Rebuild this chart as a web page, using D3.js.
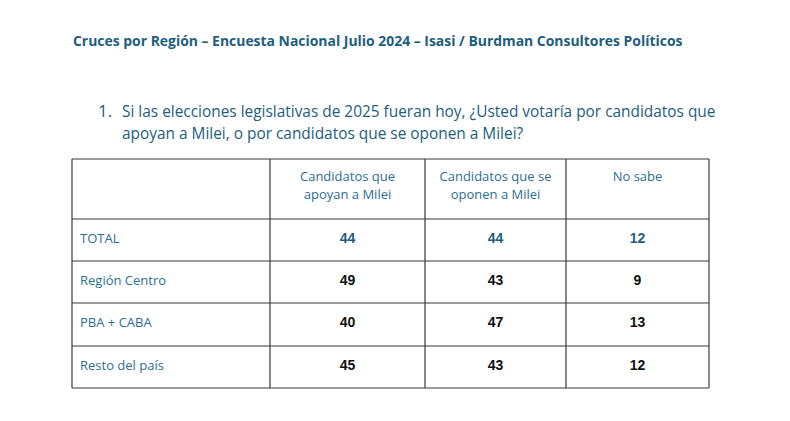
<!DOCTYPE html>
<html><head><meta charset="utf-8">
<script src="https://cdn.jsdelivr.net/npm/d3@7"></script>
<style>body{margin:0;background:#fff}svg{display:block}</style>
</head><body>
<svg id="c" width="790" height="421"></svg>
<script>
const title = "Cruces por Región – Encuesta Nacional Julio 2024 – Isasi / Burdman Consultores Políticos";
const questionNum = "1.";
const questionLines = ["Si las elecciones legislativas de 2025 fueran hoy, ¿Usted votaría por candidatos que",
                       "apoyan a Milei, o por candidatos que se oponen a Milei?"];
const columns = [["Candidatos que","apoyan a Milei"],["Candidatos que se","oponen a Milei"],["No sabe"]];
const rowLabels = ["TOTAL","Región Centro","PBA + CABA","Resto del país"];
const apoyan = [44,49,40,45];
const oponen = [44,43,47,43];
const noSabe = [12,9,13,12];

const svg = d3.select("#c");
const teal = "#1d5e80", lab = "#2c6f94";

function fit(sel, w){ const n=sel.node(); const l=n.getComputedTextLength(); const fs=parseFloat(sel.attr("font-size")); sel.attr("font-size", fs*w/l); }

const t = svg.append("text").attr("x",73).attr("y",46).attr("font-family","Open Sans, sans-serif")
  .attr("font-weight","bold").attr("font-size",14).attr("fill",teal).text(title);
fit(t, 610);

svg.append("text").attr("x",98).attr("y",117).attr("font-family","Liberation Sans Narrow, Open Sans, sans-serif")
  .attr("font-size",17).attr("fill",teal).text(questionNum);
const q1 = svg.append("text").attr("x",122).attr("y",117).attr("font-family","Liberation Sans Narrow, Open Sans, sans-serif")
  .attr("font-size",17).attr("fill",teal).text(questionLines[0]);
fit(q1, 594);
const fsq = q1.attr("font-size");
svg.append("text").attr("x",122).attr("y",139).attr("font-family","Liberation Sans Narrow, Open Sans, sans-serif")
  .attr("font-size",fsq).attr("fill",teal).text(questionLines[1]);

// table geometry
const colEdges = [72,270,425,566,709];
const rowEdges = [159,219,261,303,346,388];
const g = svg.append("g");

const values = [apoyan, oponen, noSabe];
columns.forEach((c,i)=>{
  const cx = (colEdges[i+1]+colEdges[i+2])/2;
  c.forEach((line,j)=>{
    g.append("text").attr("x",cx).attr("y",181+j*18).attr("text-anchor","middle")
      .attr("font-family","Open Sans, sans-serif").attr("font-size",13).attr("fill",lab).text(line);
  });
});
rowLabels.forEach((r,i)=>{
  const cy = (rowEdges[i+1]+rowEdges[i+2])/2 - 2;
  g.append("text").attr("x",80).attr("y",cy).attr("dy","0.35em")
    .attr("font-family","Open Sans, sans-serif").attr("font-size",13).attr("fill",lab).text(r);
  values.forEach((v,k)=>{
    g.append("text").attr("x",(colEdges[k+1]+colEdges[k+2])/2).attr("y",cy).attr("dy","0.35em")
      .attr("text-anchor","middle").attr("font-family","Liberation Sans Narrow, Arial Narrow, sans-serif")
      .attr("font-weight","bold").attr("font-size",14).attr("fill", i===0?teal:"#111").text(v[i]);
  });
});
const stroke="#3a3a3a";
rowEdges.forEach(y=>g.append("line").attr("x1",colEdges[0]).attr("x2",colEdges[4]).attr("y1",y).attr("y2",y).attr("stroke",stroke).attr("stroke-width",1.2));
colEdges.forEach(xx=>g.append("line").attr("x1",xx).attr("x2",xx).attr("y1",rowEdges[0]).attr("y2",rowEdges[5]).attr("stroke",stroke).attr("stroke-width",1.2));
</script>
</body></html>
